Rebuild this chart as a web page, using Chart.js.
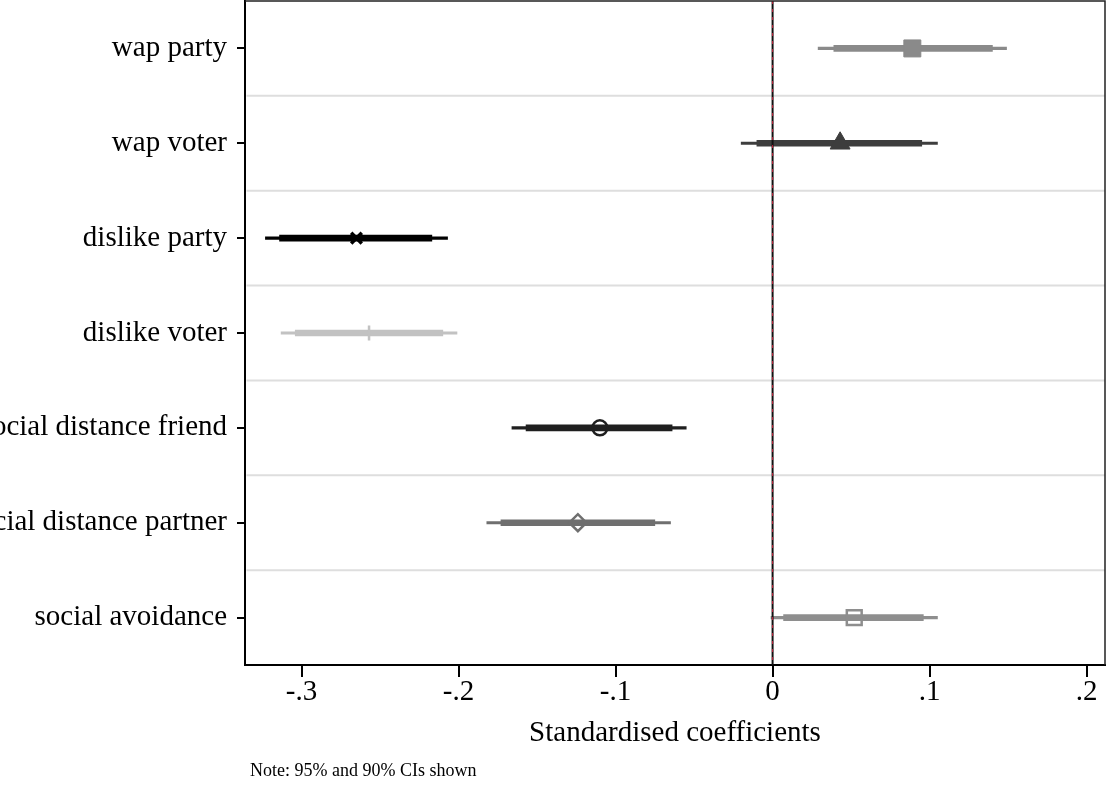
<!DOCTYPE html>
<html>
<head>
<meta charset="utf-8">
<script src="https://cdn.jsdelivr.net/npm/chart.js@4/dist/chart.umd.min.js"></script>
<style>
  html, body { margin: 0; padding: 0; background: #fff; }
  #wrap { width: 1114px; height: 786px; }
</style>
</head>
<body>
<div id="wrap"><canvas id="chart" width="1114" height="786"></canvas></div>
<script>
const labels = ['wap party', 'wap voter', 'dislike party', 'dislike voter',
    'social distance friend', 'social distance partner', 'social avoidance'];
const estimates = [0.089, 0.043, -0.265, -0.257, -0.110, -0.124, 0.052];
const ci95Low = [0.029, -0.020, -0.323, -0.313, -0.166, -0.182, -0.001];
const ci95High = [0.149, 0.105, -0.207, -0.201, -0.055, -0.065, 0.105];
const ci90Low = [0.039, -0.010, -0.314, -0.304, -0.157, -0.173, 0.007];
const ci90High = [0.140, 0.095, -0.217, -0.210, -0.064, -0.075, 0.096];
const seriesColors = ['#8a8a8a', '#3d3d3d', '#000000', '#c2c2c2', '#1f1f1f', '#6f6f6f', '#8e8e8e'];
const markerStyles = ['rect', 'triangle', 'crossRot', 'cross', 'circle', 'rectRot', 'rect'];
const markerSizes = [12, 11.5, 7.5, 7.5, 7.5, 8.5, 10.5];
const markerFilled = [true, true, false, false, false, false, false];
const xTicks = [-0.3, -0.2, -0.1, 0, 0.1, 0.2];
const noteText = 'Note: 95% and 90% CIs shown';

const serif = '"Liberation Serif", "DejaVu Serif", serif';

// light separators between rows, behind the bars
const rowLines = {
    id: 'rowLines',
    beforeDatasetsDraw(chart) {
        const {ctx, chartArea, scales} = chart;
        ctx.save();
        ctx.strokeStyle = '#dedede';
        ctx.lineWidth = 2;
        for (let i = 1; i < labels.length; i++) {
            const y = (scales.y.getPixelForValue(i - 1) + scales.y.getPixelForValue(i)) / 2;
            ctx.beginPath();
            ctx.moveTo(chartArea.left + 1.5, y);
            ctx.lineTo(chartArea.right, y);
            ctx.stroke();
        }
        ctx.restore();
    }
};

// zero reference line, plot box and the note
const extras = {
    id: 'extras',
    afterDatasetsDraw(chart) {
        const {ctx, chartArea, scales} = chart;
        const x0 = scales.x.getPixelForValue(0);
        ctx.save();
        ctx.strokeStyle = '#111';
        ctx.lineWidth = 2;
        ctx.beginPath();
        ctx.moveTo(x0, chartArea.top);
        ctx.lineTo(x0, chartArea.bottom);
        ctx.stroke();
        ctx.strokeStyle = '#c0203a';
        ctx.lineWidth = 1;
        ctx.setLineDash([3, 5]);
        ctx.beginPath();
        ctx.moveTo(x0, chartArea.top);
        ctx.lineTo(x0, chartArea.bottom);
        ctx.stroke();
        ctx.setLineDash([]);

        ctx.strokeStyle = '#222';
        ctx.lineWidth = 1.5;
        ctx.beginPath();
        ctx.moveTo(chartArea.left, chartArea.top);
        ctx.lineTo(chartArea.right, chartArea.top);
        ctx.lineTo(chartArea.right, chartArea.bottom);
        ctx.stroke();
        ctx.restore();
    },
    afterDraw(chart) {
        const ctx = chart.ctx;
        ctx.save();
        ctx.fillStyle = '#000';
        ctx.font = '18px ' + serif;
        ctx.textAlign = 'left';
        ctx.textBaseline = 'middle';
        ctx.fillText(noteText, 250, 771);
        ctx.restore();
    }
};

const ctx = document.getElementById('chart').getContext('2d');
new Chart(ctx, {
    type: 'bar',
    data: {
        labels: labels,
        datasets: [{
            type: 'line',
            label: 'Estimate',
            indexAxis: 'y',
            showLine: false,
            order: 0,
            data: labels.map((l, i) => ({x: estimates[i], y: l})),
            pointStyle: markerStyles,
            pointRadius: markerSizes,
            pointHoverRadius: markerSizes,
            pointBorderWidth: markerStyles.map((s, i) => markerFilled[i] ? 1 : (s === 'crossRot' ? 3.5 : 2.5)),
            pointBorderColor: seriesColors,
            pointBackgroundColor: seriesColors.map((c, i) => markerFilled[i] ? c : 'rgba(0,0,0,0)')
        }, {
            label: '90% CI',
            order: 1,
            grouped: false,
            data: labels.map((l, i) => [ci90Low[i], ci90High[i]]),
            backgroundColor: seriesColors,
            barThickness: 6,
            borderWidth: 0,
            borderSkipped: false
        }, {
            label: '95% CI',
            order: 2,
            grouped: false,
            data: labels.map((l, i) => [ci95Low[i], ci95High[i]]),
            backgroundColor: seriesColors,
            barThickness: 2.5,
            borderWidth: 0,
            borderSkipped: false
        }]
    },
    options: {
        indexAxis: 'y',
        responsive: false,
        animation: false,
        layout: { autoPadding: false, padding: { top: 1, right: 9, bottom: 0, left: 0 } },
        plugins: {
            legend: { display: false },
            tooltip: { enabled: false }
        },
        scales: {
            x: {
                type: 'linear',
                min: -0.336,
                max: 0.2117,
                afterBuildTicks: (scale) => {
                    scale.ticks = xTicks.map(v => ({value: v}));
                },
                afterFit: (scale) => {
                    scale.height = 121;
                    scale.paddingLeft = 0;
                    scale.paddingRight = 0;
                },
                grid: {
                    drawOnChartArea: false,
                    tickLength: 12,
                    lineWidth: 2,
                    color: '#000'
                },
                border: { display: true, color: '#000', width: 2 },
                ticks: {
                    padding: -2,
                    color: '#000',
                    font: { family: serif, size: 29 },
                    callback: (v) => v === 0 ? '0' : v.toFixed(1).replace('0.', '.')
                },
                title: {
                    display: true,
                    text: 'Standardised coefficients',
                    color: '#000',
                    font: { family: serif, size: 29 },
                    padding: { top: 0, bottom: 35 }
                }
            },
            y: {
                type: 'category',
                offset: true,
                afterFit: (scale) => {
                    scale.width = 245;
                    scale.paddingTop = 0;
                    scale.paddingBottom = 0;
                },
                grid: {
                    offset: false,
                    drawOnChartArea: false,
                    tickLength: 8,
                    lineWidth: 2,
                    color: '#000'
                },
                border: { display: true, color: '#000', width: 2 },
                ticks: {
                    padding: 10,
                    color: '#000',
                    font: { family: serif, size: 29 }
                }
            }
        }
    },
    plugins: [rowLines, extras]
});
</script>
</body>
</html>
